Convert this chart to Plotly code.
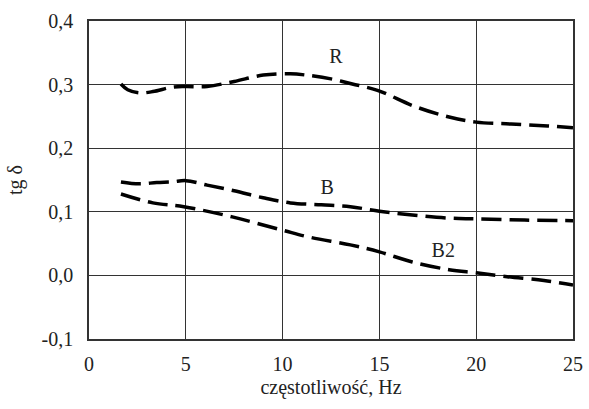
import plotly.graph_objects as go

x_R = [1.65, 2.0, 2.6, 3.3, 4.3, 5.0, 6.1, 7.5, 9.0, 10.4, 11.2, 12.5, 13.6, 14.9, 16.8, 18.6, 20.0, 21.8, 23.7, 25.0]
y_R = [0.301, 0.292, 0.287, 0.289, 0.296, 0.297, 0.297, 0.305, 0.315, 0.317, 0.315, 0.309, 0.301, 0.291, 0.266, 0.249, 0.241, 0.238, 0.235, 0.232]

x_B = [1.65, 2.6, 3.5, 4.3, 5.0, 6.1, 7.5, 9.0, 10.4, 12.0, 13.5, 15.0, 16.7, 18.6, 20.0, 22.5, 25.0]
y_B = [0.147, 0.144, 0.146, 0.147, 0.149, 0.142, 0.133, 0.122, 0.114, 0.111, 0.108, 0.101, 0.095, 0.090, 0.089, 0.087, 0.086]

x_B2 = [1.65, 3.3, 4.9, 7.4, 10.0, 11.4, 13.5, 15.0, 16.7, 18.6, 20.0, 21.6, 23.5, 25.0]
y_B2 = [0.128, 0.114, 0.108, 0.092, 0.071, 0.060, 0.048, 0.037, 0.021, 0.009, 0.004, -0.002, -0.008, -0.015]

labels = ["R", "B", "B2"]
label_x = [12.76, 12.3, 18.3]
label_y = [0.342, 0.136, 0.037]

y_ticks = [-0.1, 0.0, 0.1, 0.2, 0.3, 0.4]
y_ticktext = ["-0,1", "0,0", "0,1", "0,2", "0,3", "0,4"]
x_ticks = [0, 5, 10, 15, 20, 25]

FONT = "Liberation Serif"

fig = go.Figure()
for xs, ys in [(x_R, y_R), (x_B, y_B), (x_B2, y_B2)]:
    fig.add_trace(go.Scatter(x=xs, y=ys, mode="lines", line=dict(color="black", width=3.5, dash="20px,8px", shape="spline"), showlegend=False, hoverinfo="skip"))

fig.add_trace(go.Scatter(x=label_x, y=label_y, mode="text", text=labels, textfont=dict(family=FONT, size=20, color="#222"), showlegend=False, hoverinfo="skip"))

fig.update_layout(
    width=589, height=409,
    margin=dict(l=89, r=16, t=21, b=70, autoexpand=False),
    paper_bgcolor="white", plot_bgcolor="white",
    font=dict(family=FONT, size=20, color="#222"),
)
fig.update_xaxes(range=[0, 25], tickvals=x_ticks, showgrid=True, gridcolor="#333", gridwidth=1,
                 showline=True, linecolor="#333", linewidth=1.5, mirror=True, zeroline=False,
                 ticks="", ticklabelstandoff=6, automargin=False,
                 title=dict(text="częstotliwość, Hz", font=dict(family=FONT, size=20), standoff=6))
fig.update_yaxes(range=[-0.1, 0.4], tickvals=y_ticks, ticktext=y_ticktext, showgrid=True, gridcolor="#333", gridwidth=1,
                 showline=True, linecolor="#333", linewidth=1.5, mirror=True, zeroline=False,
                 ticks="", ticklabelstandoff=10, automargin=False,
                 title=dict(text="tg δ", font=dict(family=FONT, size=20), standoff=14))

fig.write_html("out.html")
